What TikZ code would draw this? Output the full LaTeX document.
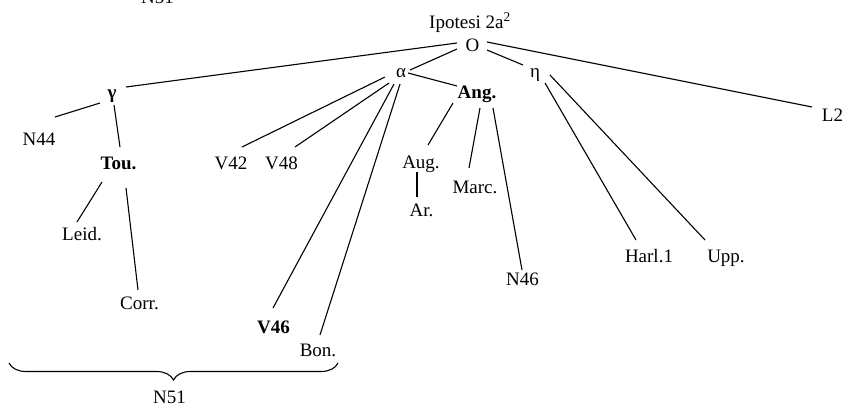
\documentclass[tikz,border=0pt]{standalone}
\usepackage{fontspec}
\setmainfont{Liberation Serif}
\usetikzlibrary{calc,decorations.pathreplacing}
\begin{document}
\begin{tikzpicture}[x=1pt,y=-1pt,
  lbl/.style={anchor=base,inner sep=0pt,font=\fontsize{19}{22}\selectfont},
  lblb/.style={anchor=base,inner sep=0pt,font=\fontsize{19}{22}\selectfont\bfseries},
  edge/.style={line width=1.1pt,black}]
\useasboundingbox (0,0) rectangle (845,407);
\clip (0,0) rectangle (845,407);
% labels (placed at their baselines)
\node[lbl]  (tN51)  at (157.5,3)  {N51};
\node[lbl]  (ip)    at (470,28)   {Ipotesi 2a\textsuperscript{2}};
\node[lbl]  (O)     at (472.5,51) {O};
\node[lblb] (gamma) at (112,98)   {γ};
\node[lbl]  (alpha) at (401,77)   {α};
\node[lbl]  (eta)   at (535,77)   {η};
\node[lblb] (ang)   at (477,98)   {Ang.};
\node[lbl]  (L2)    at (832.5,121){L2};
\node[lbl]  (N44)   at (39,145)   {N44};
\node[lblb] (tou)   at (118.5,169){Tou.};
\node[lbl]  (V42)   at (231,169)  {V42};
\node[lbl]  (V48)   at (281.5,169){V48};
\node[lbl]  (leid)  at (82,240)   {Leid.};
\node[lbl]  (corr)  at (139.5,309){Corr.};
\node[lblb] (V46)   at (273.5,333){V46};
\node[lbl]  (bon)   at (318,356)  {Bon.};
\node[lbl]  (bN51)  at (169.5,403){N51};
\node[lbl]  (aug)   at (421,168)  {Aug.};
\node[lbl]  (ar)    at (421.5,216){Ar.};
\node[lbl]  (marc)  at (475,193)  {Marc.};
\node[lbl]  (N46)   at (522.5,285){N46};
\node[lbl]  (harl)  at (649,262)  {Harl.1};
\node[lbl]  (upp)   at (726,262)  {Upp.};
% connectors
\draw[edge] ($(O.base)+(-15.5,-8)$) -- ($(gamma.base)+(14,-11)$);
\draw[edge] ($(O.base)+(-15.5,-2)$) -- ($(alpha.base)+(9,-7)$);
\draw[edge] ($(O.base)+(14.5,-1)$) -- ($(eta.base)+(-12,-12)$);
\draw[edge] ($(O.base)+(14.5,-9)$) -- ($(L2.base)+(-20.5,-14)$);
\draw[edge] ($(gamma.base)+(-12,5)$) -- ($(N44.base)+(16,-28)$);
\draw[edge] ($(gamma.base)+(2,7)$) -- ($(tou.base)+(1.5,-22)$);
\draw[edge] ($(tou.base)+(-16.5,13)$) -- ($(leid.base)+(-5,-18)$);
\draw[edge] ($(tou.base)+(7.5,19)$) -- ($(corr.base)+(-1.5,-19)$);
\draw[edge] ($(alpha.base)+(-16,0)$) -- ($(V42.base)+(11,-22)$);
\draw[edge] ($(alpha.base)+(-12,6)$) -- ($(V48.base)+(13.5,-22)$);
\draw[edge] ($(alpha.base)+(-7,7)$) -- ($(V46.base)+(-0.5,-25)$);
\draw[edge] ($(alpha.base)+(-1,7)$) -- ($(bon.base)+(2,-21)$);
\draw[edge] ($(alpha.base)+(7,-4)$) -- ($(ang.base)+(-20,-12)$);
\draw[edge] ($(ang.base)+(-24,5)$) -- ($(aug.base)+(7,-23)$);
\draw[edge] ($(ang.base)+(3,10)$) -- ($(marc.base)+(-6,-25)$);
\draw[edge] ($(ang.base)+(16,10)$) -- ($(N46.base)+(-0.5,-15)$);
\draw[edge] ($(aug.base)+(-4,4)$) -- ($(ar.base)+(-4.5,-19)$);
\draw[edge] ($(eta.base)+(10,6)$) -- ($(harl.base)+(-13,-22)$);
\draw[edge] ($(eta.base)+(15,-2)$) -- ($(upp.base)+(-21,-22)$);
% brace over the N51 group
\coordinate (bl) at (9,363);
\coordinate (br) at (338,363);
\draw[edge,decorate,decoration={brace,amplitude=17pt,mirror}] (bl) -- (br);
\end{tikzpicture}
\end{document}
